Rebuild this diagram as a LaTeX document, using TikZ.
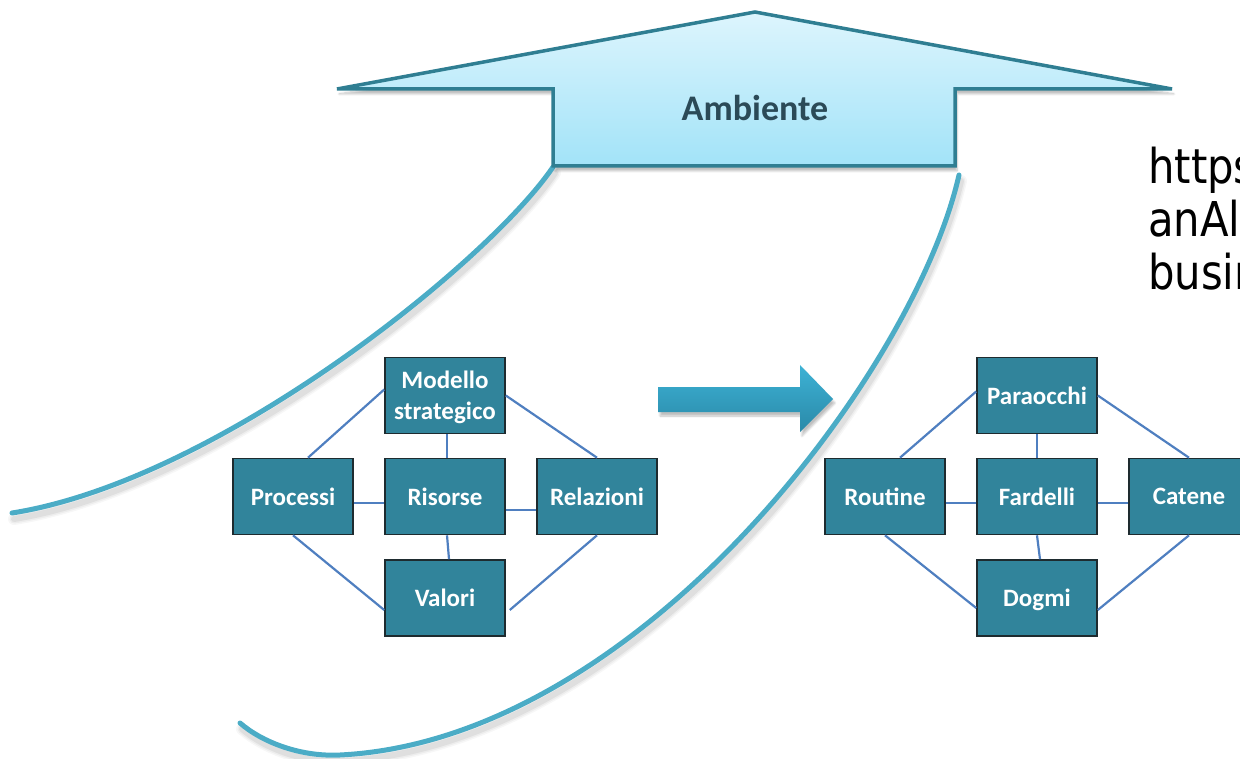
\documentclass[tikz,border=0pt]{standalone}
\usepackage{fontspec}
\setmainfont{Carlito}
\newfontfamily\urlfont[FakeStretch=0.87]{DejaVu Sans}
\usetikzlibrary{shadows.blur}

\definecolor{boxfill}{HTML}{31849B}
\definecolor{boxline}{HTML}{1E2B2F}
\definecolor{linkblue}{HTML}{4F7FC0}
\definecolor{swoosh}{HTML}{4BACC6}
\definecolor{bigedge}{HTML}{2F7E92}
\definecolor{bigtop}{HTML}{DDF5FD}
\definecolor{bigbot}{HTML}{A2E3F8}
\definecolor{labeldark}{HTML}{2B4A57}
\definecolor{arrtop}{HTML}{3DB2D5}
\definecolor{arrbot}{HTML}{2A89A8}

\begin{document}
\begin{tikzpicture}[x=1pt,y=-1pt,
  blockbox/.style={draw=boxline, line width=1.6pt, fill=boxfill,
    minimum width=120pt, minimum height=76pt, inner sep=0pt,
    text=white, text depth=0pt, align=center,
    font=\fontsize{25}{31}\selectfont\bfseries},
  link/.style={draw=linkblue, line width=2.2pt},
  swooshline/.style={draw=swoosh, line width=5pt, line cap=round},
  swooshshade/.style={draw=black, line cap=round, shift={(2,6)}},
  urltext/.style={anchor=base west, inner sep=0pt, font=\urlfont\fontsize{48}{53}\selectfont}]

\useasboundingbox (0,0) rectangle (1240,759);
\clip (0,0) rectangle (1240,759);

% soft shadows under the two sweeping curves
\foreach \w/\o in {12/0.03, 9/0.04, 6/0.06} {
  \draw[swooshshade, line width=\w pt, opacity=\o]
    (553,167) .. controls (490,260) and (220,480) .. (12,513);
  \draw[swooshshade, line width=\w pt, opacity=\o]
    (959,175) .. controls (915,370) and (640,740) .. (340,755)
    .. controls (300,757) and (262,742) .. (240,723);
}

% the two sweeping curves
\draw[swooshline] (553,167) .. controls (490,260) and (220,480) .. (12,513);
\draw[swooshline] (959,175) .. controls (915,370) and (640,740) .. (340,755)
  .. controls (300,757) and (262,742) .. (240,723);

% large upward arrow
\path[top color=bigtop, bottom color=bigbot, draw=bigedge, line width=3.5pt,
      blur shadow={shadow xshift=2pt, shadow yshift=-5pt, shadow blur steps=8, shadow opacity=25}]
  (755,12) -- (337,89) -- (553,89) -- (553,166) -- (955,166) -- (955,89) -- (1172,89) -- cycle;
\node[text=labeldark, font=\fontsize{36}{42}\selectfont\bfseries] (env) at (755,108) {Ambiente};

% transition arrow
\path[top color=arrtop, bottom color=arrbot,
      blur shadow={shadow xshift=2pt, shadow yshift=-4pt, shadow blur steps=8, shadow opacity=25}]
  (658,387) -- (800,387) -- (800,365) -- (833,399) -- (800,432) -- (800,412) -- (658,412) -- cycle;

% left cluster
\node[blockbox] (mod) at (445,395.5) {Modello\\strategico};
\node[blockbox] (pro) at (293,496.5) {Processi};
\node[blockbox] (ris) at (445,496.5) {Risorse};
\node[blockbox] (rel) at (597,496.5) {Relazioni};
\node[blockbox] (val) at (445,598) {Valori};

\draw[link] ([yshift=6pt]mod.west) -- ([xshift=15pt]pro.north);
\draw[link] (mod.east) -- (rel.north);
\draw[link] ([xshift=2pt]mod.south) -- ([xshift=2pt]ris.north);
\draw[link] ([yshift=-6.5pt]pro.east) -- ([yshift=-6.5pt]ris.west);
\draw[link] ([yshift=-13.5pt]ris.east) -- ([yshift=-13.5pt]rel.west);
\draw[link] ([xshift=2pt]ris.south) -- ([xshift=4pt]val.north);
\draw[link] (pro.south) -- ([yshift=-12pt]val.west);
\draw[link] (rel.south) -- ([xshift=4pt,yshift=-12pt]val.east);

% right cluster
\node[blockbox] (par) at (1037,395.5) {Paraocchi};
\node[blockbox] (rou) at (885,496.5) {Routine};
\node[blockbox] (far) at (1037,496.5) {Fardelli};
\node[blockbox] (cat) at (1189,496.5) {Catene};
\node[blockbox] (dog) at (1037,598) {Dogmi};

\draw[link] ([yshift=4pt]par.west) -- ([xshift=15pt]rou.north);
\draw[link] (par.east) -- (cat.north);
\draw[link] (par.south) -- (far.north);
\draw[link] ([yshift=-6.5pt]rou.east) -- ([yshift=-6.5pt]far.west);
\draw[link] ([yshift=-6.5pt]far.east) -- ([yshift=-6.5pt]cat.west);
\draw[link] (far.south) -- ([xshift=3pt]dog.north);
\draw[link] (rou.south) -- ([yshift=-10pt]dog.west);
\draw[link] (cat.south) -- ([yshift=-12pt]dog.east);

% reference text at the right margin
\node[urltext] (url1) at (1148,184) {https};
\node[urltext] (url2) at (1148,237) {anAl};
\node[urltext] (url3) at (1148,290) {busin};
\end{tikzpicture}
\end{document}
